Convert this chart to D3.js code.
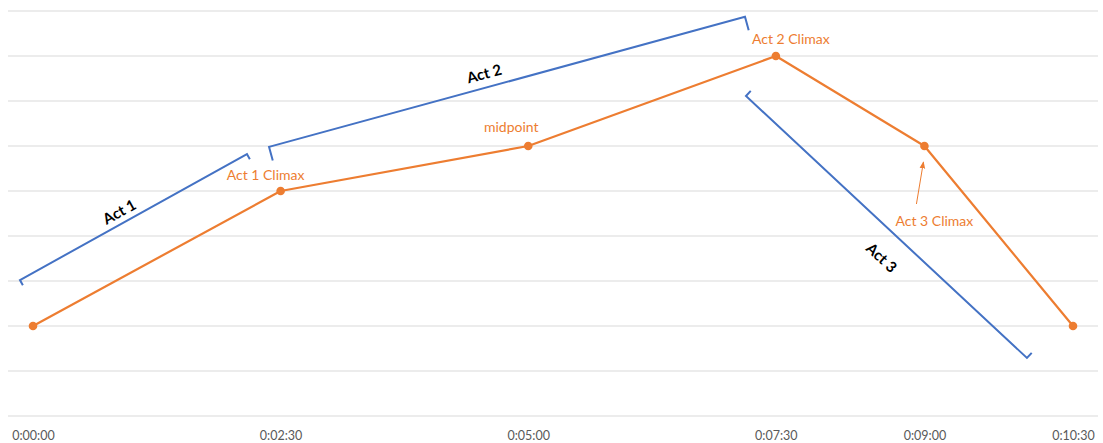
<!DOCTYPE html>
<html>
<head>
<meta charset="utf-8">
<script src="https://cdn.jsdelivr.net/npm/d3@7"></script>
<style>
  html, body { margin: 0; padding: 0; background: #ffffff; }
  svg { display: block; }
</style>
</head>
<body>
<div id="chart"></div>
<script>
// Story arc: intensity over running time (seconds)
const times = [0, 150, 300, 450, 540, 630];
const intensity = [2, 5, 6, 8, 6, 2];
const tickTimes = [0, 150, 300, 450, 540, 630];
const gridValues = [0, 1, 2, 3, 4, 5, 6, 7, 8, 9];

// Labelled points on the arc (index into times/intensity)
const pointLabels = [
  { i: 1, text: "Act 1 Climax" },
  { i: 2, text: "midpoint" },
  { i: 3, text: "Act 2 Climax" },
  { i: 4, text: "Act 3 Climax" }
];

// Act brackets: start/end in (seconds, intensity)
const actNames = ["Act 1", "Act 2", "Act 3"];
const actStart = [[-7.9, 3.02], [143.0, 5.98], [431.9, 7.11]];
const actEnd = [[129.6, 5.82], [431.3, 8.87], [602.1, 1.29]];
const actLabelAt = [[52.1, 4.55], [273.2, 7.62], [514.3, 3.53]];

const W = 1103, H = 443;
const ORANGE = "#ED7D31", BLUE = "#4472C4", GRID = "#d9d9d9", AXIS_TEXT = "#595959";
const FONT = "Lato, 'Open Sans', sans-serif";

const svg = d3.select("#chart").append("svg")
  .attr("width", W).attr("height", H);

const x = d3.scaleLinear().domain([0, 630]).range([33, 1073]);
const y = d3.scaleLinear().domain([0, 9]).range([416, 11]);

// Horizontal gridlines
svg.append("g").selectAll("line").data(gridValues).join("line")
  .attr("x1", 8).attr("x2", 1098)
  .attr("y1", d => y(d)).attr("y2", d => y(d))
  .attr("stroke", GRID).attr("stroke-width", 1);

// Time axis labels
const fmtTime = s => {
  const h = Math.floor(s / 3600), m = Math.floor((s % 3600) / 60), sec = s % 60;
  return `${h}:${String(m).padStart(2, "0")}:${String(sec).padStart(2, "0")}`;
};
const xAxis = d3.axisBottom(x).tickValues(tickTimes).tickFormat(fmtTime).tickSize(0).tickPadding(0);
const axisG = svg.append("g").attr("transform", `translate(0, ${y(0)})`).call(xAxis);
axisG.select(".domain").remove();
axisG.selectAll("text")
  .attr("y", 23.5).attr("dy", 0)
  .attr("fill", AXIS_TEXT).style("font-family", FONT).style("font-size", "12.5px");

// Act brackets with perpendicular end ticks
const tickLen = [6, 14, 7];
const brackets = svg.append("g");
actNames.forEach((name, k) => {
  const x0 = x(actStart[k][0]), y0 = y(actStart[k][1]);
  const x1 = x(actEnd[k][0]), y1 = y(actEnd[k][1]);
  const dx = x1 - x0, dy = y1 - y0, len = Math.hypot(dx, dy);
  // unit normal, pointing toward the arc side (down for rising, up-right for falling)
  let nx = -dy / len, ny = dx / len;
  if (dy > 0) { nx = -nx; ny = -ny; }
  const t = tickLen[k];
  const path = d3.path();
  path.moveTo(x0 + nx * t, y0 + ny * t);
  path.lineTo(x0, y0);
  path.lineTo(x1, y1);
  path.lineTo(x1 + nx * t, y1 + ny * t);
  brackets.append("path").attr("d", path.toString())
    .attr("fill", "none").attr("stroke", BLUE).attr("stroke-width", 2)
    .attr("stroke-linejoin", "miter");
  const ang = Math.atan2(dy, dx) * 180 / Math.PI;
  brackets.append("text")
    .attr("transform", `translate(${x(actLabelAt[k][0])},${y(actLabelAt[k][1])}) rotate(${ang})`)
    .attr("text-anchor", "middle").attr("dominant-baseline", "central")
    .attr("fill", "#000").style("font-family", FONT).style("font-size", "15px").style("font-weight", "bold")
    .text(name);
});

// Intensity line
const pts = times.map((t, i) => [t, intensity[i]]);
svg.append("path").datum(pts)
  .attr("d", d3.line().x(d => x(d[0])).y(d => y(d[1])))
  .attr("fill", "none").attr("stroke", ORANGE).attr("stroke-width", 2.2)
  .attr("stroke-linejoin", "round");
svg.append("g").selectAll("circle").data(pts).join("circle")
  .attr("cx", d => x(d[0])).attr("cy", d => y(d[1])).attr("r", 4.3)
  .attr("fill", ORANGE);

// Point labels
const labelOffsets = [[-15, -11], [-17, -14], [15, -12], [10, 80]];
svg.append("g").selectAll("text").data(pointLabels).join("text")
  .attr("x", (d, j) => x(times[d.i]) + labelOffsets[j][0])
  .attr("y", (d, j) => y(intensity[d.i]) + labelOffsets[j][1])
  .attr("text-anchor", "middle")
  .attr("fill", ORANGE).style("font-family", FONT).style("font-size", "14px")
  .text(d => d.text);

// Arrow from the Act 3 Climax label up to its point
const defs = svg.append("defs");
defs.append("marker").attr("id", "arrowhead")
  .attr("viewBox", "0 0 10 10").attr("refX", 9).attr("refY", 5)
  .attr("markerWidth", 7).attr("markerHeight", 7).attr("orient", "auto")
  .append("path").attr("d", "M0,1 L10,5 L0,9 Z").attr("fill", ORANGE);
const ax = x(times[4]), ay = y(intensity[4]);
svg.append("line")
  .attr("x1", ax - 8).attr("y1", ay + 58)
  .attr("x2", ax - 1).attr("y2", ay + 16)
  .attr("stroke", ORANGE).attr("stroke-width", 1)
  .attr("marker-end", "url(#arrowhead)");
</script>
</body>
</html>
